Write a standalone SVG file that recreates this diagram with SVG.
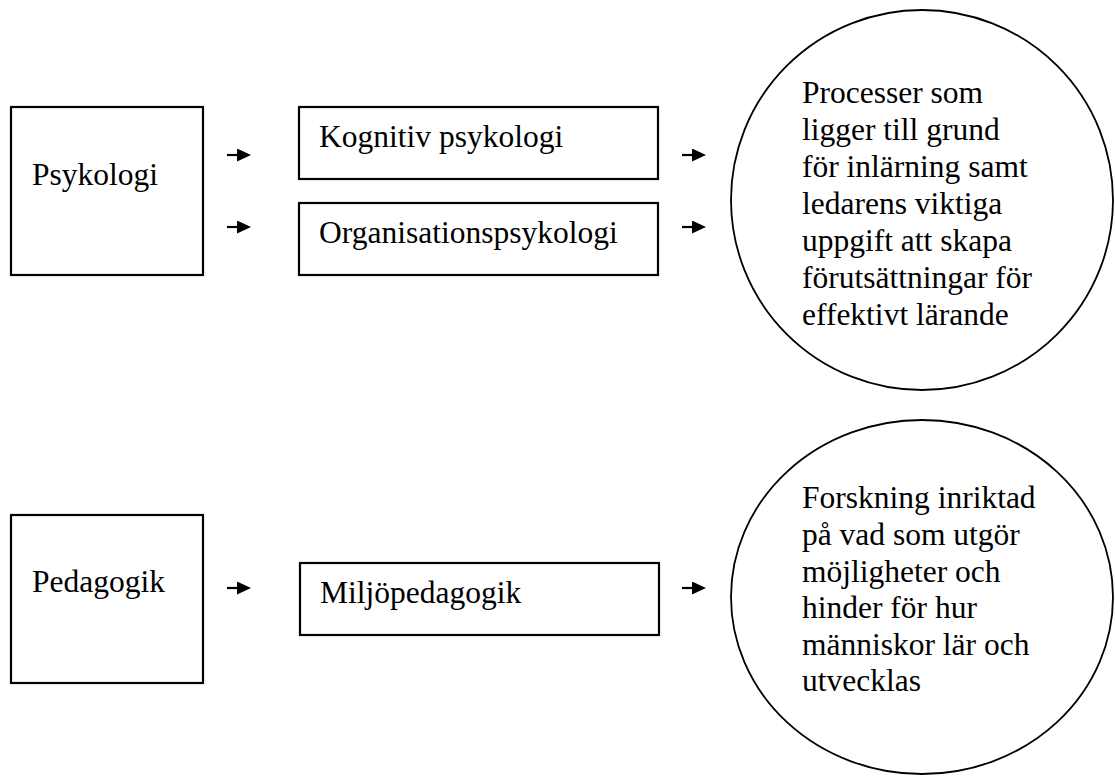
<svg xmlns="http://www.w3.org/2000/svg" width="1115" height="776" viewBox="0 0 1115 776">
<defs>
<marker id="ah" markerWidth="14" markerHeight="13" refX="0" refY="6.5" orient="auto" markerUnits="userSpaceOnUse">
<path d="M0,0 L14,6.5 L0,13 Z" fill="#000"/>
</marker>
<style>
.box{fill:#fff;stroke:#000;stroke-width:2.2}
.circ{fill:#fff;stroke:#000;stroke-width:1.8}
.t{font-family:"Liberation Serif","Times New Roman",serif;font-size:31.5px;fill:#000}
.arr{stroke:#000;stroke-width:2.2;fill:none;marker-end:url(#ah)}
</style>
</defs>
<rect width="1115" height="776" fill="#fff"/>
<g id="psykologi"><rect class="box" x="11" y="107" width="192" height="168"/><text class="t" x="32" y="185">Psykologi</text></g>
<g id="kognitiv"><rect class="box" x="299" y="107" width="359" height="72"/><text class="t" x="319" y="147">Kognitiv psykologi</text></g>
<g id="organisation"><rect class="box" x="299" y="203" width="359" height="72"/><text class="t" x="319" y="243">Organisationspsykologi</text></g>
<g id="processer"><ellipse class="circ" cx="922" cy="200" rx="191" ry="190"/>
<text class="t" x="802" y="103">Processer som</text>
<text class="t" x="802" y="140">ligger till grund</text>
<text class="t" x="802" y="177">för inlärning samt</text>
<text class="t" x="802" y="214">ledarens viktiga</text>
<text class="t" x="802" y="251">uppgift att skapa</text>
<text class="t" x="802" y="288">förutsättningar för</text>
<text class="t" x="802" y="325">effektivt lärande</text>
</g>
<g id="pedagogik"><rect class="box" x="11" y="515" width="192" height="168"/><text class="t" x="32" y="592">Pedagogik</text></g>
<g id="miljopedagogik"><rect class="box" x="300" y="563" width="359" height="72"/><text class="t" x="320" y="603">Miljöpedagogik</text></g>
<g id="forskning"><ellipse class="circ" cx="922" cy="597" rx="191" ry="177"/>
<text class="t" x="802" y="508">Forskning inriktad</text>
<text class="t" x="802" y="545">på vad som utgör</text>
<text class="t" x="802" y="582">möjligheter och</text>
<text class="t" x="802" y="618">hinder för hur</text>
<text class="t" x="802" y="655">människor lär och</text>
<text class="t" x="802" y="691">utvecklas</text>
</g>
<g id="connectors">
<line class="arr" x1="227" y1="155" x2="237" y2="155"/>
<line class="arr" x1="227" y1="227" x2="237" y2="227"/>
<line class="arr" x1="682" y1="155" x2="692" y2="155"/>
<line class="arr" x1="682" y1="227" x2="692" y2="227"/>
<line class="arr" x1="227" y1="588" x2="237" y2="588"/>
<line class="arr" x1="682" y1="588" x2="692" y2="588"/>
</g>
</svg>
